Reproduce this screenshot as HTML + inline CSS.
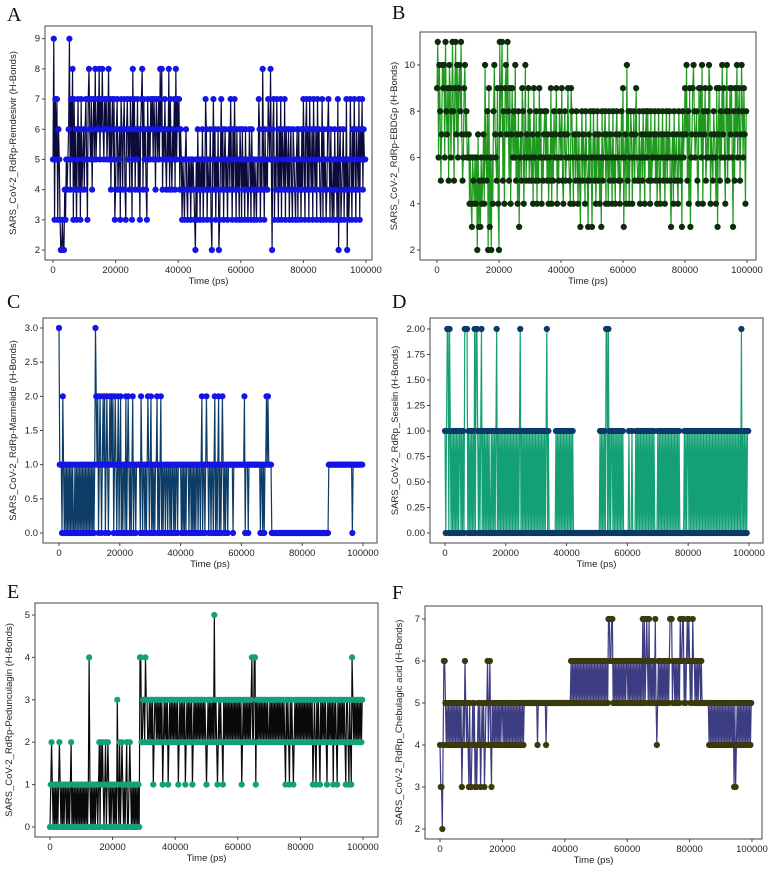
<!DOCTYPE html>
<html><head><meta charset="utf-8">
<style>
html,body{margin:0;padding:0;background:#fff;}
svg{display:block;}
text{font-family:"Liberation Sans",sans-serif;}
.lt{font-family:"Liberation Serif",serif;font-size:20px;fill:#111;}
.tk{font-size:9.5px;fill:#222;}
.yl{font-size:9.5px;fill:#222;}
</style></head>
<body>
<svg id="fig" width="771" height="876" viewBox="0 0 771 876" xmlns="http://www.w3.org/2000/svg">
<text class="lt" x="7" y="21">A</text>
<text class="lt" x="392" y="19">B</text>
<text class="lt" x="7" y="308">C</text>
<text class="lt" x="392" y="308">D</text>
<text class="lt" x="7" y="598">E</text>
<text class="lt" x="392" y="599">F</text>
</svg>
<script>
const xTicks = [0,20000,40000,60000,80000,100000];
const timeStep = 250;
const valuesA = ("59375736532232243545 69475837463574637456 46753786574675856768 57686576756857467573 46745637646743675647 63857465746367847564 37565767576476575868 46575465847546574857 67465354356435453545 43253645354635476354 46325746354623574635 64535647536475364536 53645364534653645354 35476354853645476585 26735475364736547365 46356436543563645364 75367463754637546375 64357364534675364353 64537256345635472534 75364753654736574655").replace(/ /g,'').split('').map(c=>parseInt(c,16));
const valuesB = ("9b6a857a9a6b8795a968 b859b7a69a8b7569a786 67464365464627353645 74a65829362648a76594 2b79b5849a7b85947968 6a574836759846a57695 86574965847596846578 68574659475867946587 69547856796549864775 86475368576486537586 36857468574638567847 64857648564786574586 93674a58468746857965 58467586478685748567 68574685476857468576 85367485675486573867 97a58493679a86785497 96a48795686a94765876 49379586a79648a58697 9638597a68957a869748").replace(/ /g,'').split('').map(c=>parseInt(c,16));
const valuesC = ("31110210101010101010 01010101010101010101 01010101321201210121 20121012121201210120 12010110201210101201 10111110210110101210 12010101120101201011 01101101011010110111 10101010111011010101 01101101201101211011 01101201012010121010 11011111101111111111 11112011101111111111 11111011010112121111 00000000000000000000 00000000000000000000 00000000000000000000 00000000000000011111 11111111111111111111 11111101111111111111").replace(/ /g,'').split('').map(Number);
const valuesD = ("10122021010101010101 10101022220101010102 02210101201010101010 01010101201010101010 10101010101010101012 01010101010101010101 01010101010101201000 00000010101010101010 10101010100000000000 00000000000000000000 00001010101022020101 10101010101010100000 00100010000101010101 01010101010101010000 10101010101010101010 10101010100000010101 10101010101010101010 10101010101010101010 10101010101010101010 10101010102010101011").replace(/ /g,'').split('').map(Number);
const valuesE = ("01210101010121010101 10101012010101010101 01010101014101010101 10120212101201210101 10101031020121010120 01210101010101044223 32433223232312332323 23231232323123232323 23231232323231232323 23123232323232323232 12323232325232123232 21323232323232323232 32323123232323232342 24413232323232323232 23232323232323232323 21323213232123232323 23232323232323231232 13232132323232132323 23132321323232323213 32132143232323232323").replace(/ /g,'').split('').map(Number);
const valuesF = ("43324665454545454545 45454545345465454353 34545343454534545345 56456435454545454545 54545454545454545454 54545454555555555555 55555455555555554555 55555555555555555555 55555555656565656565 65656565656565656565 65656565656565657766 77565656565656565656 65656565656565656565 75756765756565657545 65656565656565677756 65656565766775656767 65657665656566565555 55555454545454545454 54545454545454545353 45454545454545454545").replace(/ /g,'').split('').map(Number);
const yTicksA = [2,3,4,5,6,7,8,9];
const yTicksB = [2,4,6,8,10];
const yTicksC = [0,0.5,1,1.5,2,2.5,3];
const yTicksD = [0,0.25,0.5,0.75,1,1.25,1.5,1.75,2];
const yTicksE = [0,1,2,3,4,5];
const yTicksF = [2,3,4,5,6,7];

const NS = "http://www.w3.org/2000/svg";
const svg = document.getElementById('fig');
function mk(tag, attrs, parent){
  const e = document.createElementNS(NS, tag);
  for (const k in attrs) e.setAttribute(k, attrs[k]);
  (parent||svg).appendChild(e);
  return e;
}
function panel(id, cfg, values, yTicks){
  const g = mk('g', {});
  
  
  const xs = v => cfg.x0 + v / 100000 * (cfg.x1 - cfg.x0);
  const ys = v => cfg.py0 + (v - cfg.v0) / (cfg.v1 - cfg.v0) * (cfg.py1 - cfg.py0);
  const frame = mk('rect', {x:cfg.L, y:cfg.T, width:cfg.R-cfg.L, height:cfg.B-cfg.T, fill:'none', stroke:'#444', 'stroke-width':1}, g);
  
  
  let d = '';
  values.forEach((v,i)=>{ d += (i?'L':'M') + xs(i*timeStep).toFixed(2) + ' ' + ys(v).toFixed(2); });
  const line = mk('path', {d:d, fill:'none', stroke:cfg.lc, 'stroke-width':1.2}, g);
  
  
  const mg = mk('g', {fill:cfg.mc}, g);
  
  
  values.forEach((v,i)=>{
    const c = mk('circle', {cx:xs(i*timeStep).toFixed(2), cy:ys(v).toFixed(2), r:3.1}, mg);
    
    
  });
  xTicks.forEach(t=>{
    const x = xs(t);
    mk('line', {x1:x, x2:x, y1:cfg.B, y2:cfg.B+3, stroke:'#444'}, g);
    const tx = mk('text', {x:x, y:cfg.B+13, 'text-anchor':'middle', class:'tk'}, g);
    tx.textContent = t;
    
    
  });
  yTicks.forEach(t=>{
    const y = ys(t);
    mk('line', {x1:cfg.L-3, x2:cfg.L, y1:y, y2:y, stroke:'#444'}, g);
    const tx = mk('text', {x:cfg.L-5, y:y+3, 'text-anchor':'end', class:'tk'}, g);
    tx.textContent = t.toFixed(cfg.dec);
    
    
  });
  const xl = mk('text', {x:(cfg.L+cfg.R)/2, y:cfg.B+24, 'text-anchor':'middle', class:'yl'}, g);
  xl.textContent = 'Time (ps)';
  
  
  const cy = (cfg.T+cfg.B)/2;
  const yl = mk('text', {x:cfg.yx, y:cy, 'text-anchor':'middle', class:'yl', transform:'rotate(-90 '+cfg.yx+' '+cy+')'}, g);
  yl.textContent = cfg.title;
  
  
}
panel('a', {L:45,R:372,T:26,B:260,x0:53,x1:366,v0:2,v1:9,py0:250,py1:38.7,lc:'#0b0b3c',mc:'#1414e6',dec:0,yx:16,title:'SARS_CoV-2_RdRp-Remdesivir (H-Bonds)'}, valuesA, yTicksA);
panel('b', {L:420,R:756,T:32,B:260,x0:437,x1:747,v0:2,v1:10,py0:250,py1:65,lc:'#1f9a1f',mc:'#0c2c0c',dec:0,yx:397,title:'SARS_CoV-2_RdRp-EBDGp (H-Bonds)'}, valuesB, yTicksB);
panel('c', {L:43,R:377,T:318,B:543,x0:59,x1:363,v0:0,v1:3,py0:533,py1:328,lc:'#0d3d66',mc:'#1414e6',dec:1,yx:16,title:'SARS_CoV-2_RdRp-Marmelide (H-Bonds)'}, valuesC, yTicksC);
panel('d', {L:430,R:763,T:318,B:543,x0:445,x1:749,v0:0,v1:2,py0:533,py1:329,lc:'#12a074',mc:'#0b3a68',dec:2,yx:398,title:'SARS_CoV-2_RdRp_Seselin (H-Bonds)'}, valuesD, yTicksD);
panel('e', {L:35,R:378,T:603,B:837,x0:50,x1:363,v0:0,v1:5,py0:827,py1:615,lc:'#0a0a0a',mc:'#14a078',dec:0,yx:12,title:'SARS_CoV-2_RdRp-Pedunculagin (H-Bonds)'}, valuesE, yTicksE);
panel('f', {L:425,R:762,T:606,B:839,x0:440,x1:752,v0:2,v1:7,py0:829,py1:619,lc:'#3c3c82',mc:'#3a3a0c',dec:0,yx:402,title:'SARS_CoV-2_RdRp_Chebulagic acid (H-Bonds)'}, valuesF, yTicksF);
</script>
</body></html>
